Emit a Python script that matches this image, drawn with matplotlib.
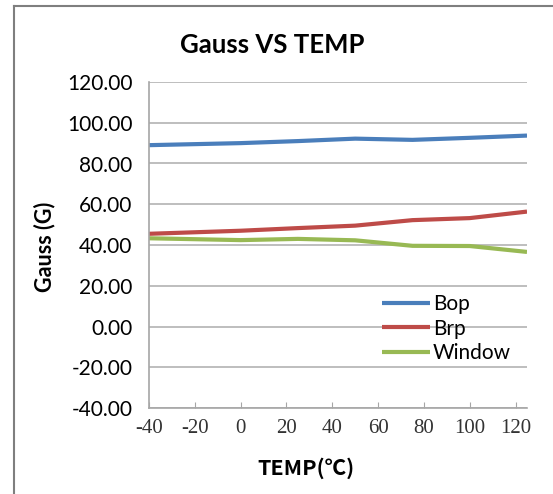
import matplotlib
matplotlib.use("Agg")
import matplotlib.pyplot as plt
from matplotlib.lines import Line2D
from matplotlib.ticker import FormatStrFormatter

plt.rcParams['axes.unicode_minus'] = False

# data
temp = [-40, 0, 25, 50, 75, 100, 125]
bop = [89.0, 90.0, 91.0, 92.2, 91.6, 92.6, 93.7]
brp = [45.5, 47.0, 48.3, 49.5, 52.2, 53.2, 56.4]
window = [43.3, 42.4, 43.0, 42.3, 39.6, 39.5, 36.6]

xticks = [-40, -20, 0, 20, 40, 60, 80, 100, 120]
yticks = [-40, -20, 0, 20, 40, 60, 80, 100, 120]

sans = ['Lato', 'DejaVu Sans']
serif = ['Liberation Serif', 'DejaVu Serif']
cjk = ['Noto Sans CJK SC', 'DejaVu Sans']

W, H = 553, 494
fig = plt.figure(figsize=(W / 100, H / 100), dpi=100)
ax = fig.add_axes([149 / W, 1 - 408 / H, (527 - 149) / W, (408 - 82) / H])

ax.plot(temp, bop, color='#4a7ebb', lw=3, label='Bop', solid_capstyle='butt')
ax.plot(temp, brp, color='#be4b48', lw=3, label='Brp', solid_capstyle='butt')
ax.plot(temp, window, color='#98b954', lw=3, label='Window', solid_capstyle='butt')

ax.set_xlim(-40, 125)
ax.set_ylim(-40, 120)
ax.set_xticks(xticks)
ax.set_yticks(yticks)
ax.yaxis.set_major_formatter(FormatStrFormatter('%.2f'))
ax.grid(axis='y', color='#b3b3b3', lw=1.2)
ax.set_axisbelow(True)

for s in ['top', 'right']:
    ax.spines[s].set_visible(False)
for s in ['left', 'bottom']:
    ax.spines[s].set_color('#a6a6a6')
    ax.spines[s].set_linewidth(1.2)

ax.tick_params(axis='x', direction='in', length=4, color='#a6a6a6', pad=8)
ax.tick_params(axis='y', length=0, pad=12)
for lab in ax.get_yticklabels():
    lab.set_family(sans)
    lab.set_fontsize(15)
for lab in ax.get_xticklabels():
    lab.set_family(serif)
    lab.set_fontsize(15)
    lab.set_color('#333333')

fig.text(272 / W, 1 - 45 / H, 'Gauss VS TEMP', ha='center', va='center',
         fontsize=18.5, fontweight='bold', family=sans)
fig.text(45 / W, 1 - 247 / H, 'Gauss (G)', ha='center', va='center',
         rotation=90, fontsize=15.5, fontweight='bold', family=sans)
fig.text(306 / W, 1 - 468 / H, 'TEMP(℃)', ha='center', va='center',
         fontsize=15.5, fontweight='bold', family=cjk)

ax.legend(loc='upper left', bbox_to_anchor=(382 / W, 1 - 294 / H),
          bbox_transform=fig.transFigure, frameon=False, borderaxespad=0,
          borderpad=0, handlelength=2.3, handletextpad=0.15, labelspacing=0.22,
          prop={'family': sans, 'size': 15})

# partial chart border (left and top)
fig.add_artist(Line2D([14 / W, 14 / W], [0, 1 - 6 / H], color='#7f7f7f', lw=1.5,
                      transform=fig.transFigure))
fig.add_artist(Line2D([14 / W, 1], [1 - 6 / H, 1 - 6 / H], color='#7f7f7f', lw=1.5,
                      transform=fig.transFigure))

fig.savefig('out.png', dpi=100)
